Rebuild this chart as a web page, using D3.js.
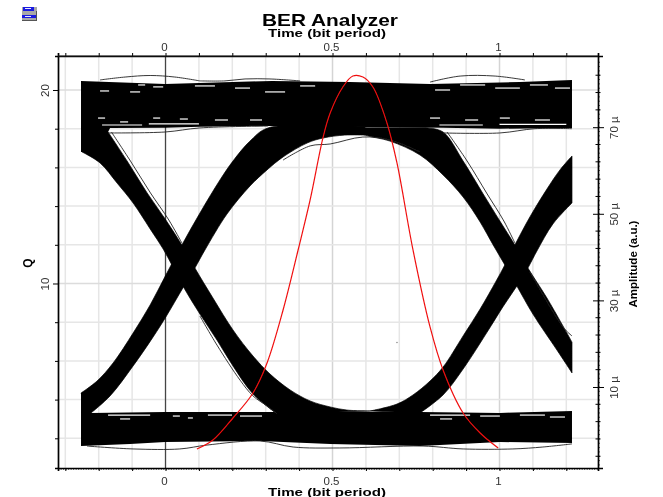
<!DOCTYPE html>
<html><head><meta charset="utf-8">
<style>
html,body{margin:0;padding:0;background:#fff;overflow:hidden}
svg{display:block}
text{font-family:"Liberation Sans",Arial,sans-serif}
</style>
<script src="https://cdn.jsdelivr.net/npm/d3@7"></script>
</head><body><svg id="c" width="663" height="497"></svg>
<script>
const titleText="BER Analyzer", xLabel="Time (bit period)", qLabel="Q", ampLabel="Amplitude (a.u.)";
const xMajor=[0,0.5,1];
const xGridVals=[-0.3,-0.2,-0.1,0,0.1,0.2,0.3,0.4,0.5,0.6,0.7,0.8,0.9,1,1.1,1.2];
const qGridVals=[2,4,6,8,10,12,14,16,18,20];
const qLabelled=[10,20];
const ampMajor=[10,30,50,70];
const ampMid=[-6,-2,2,6,14,18,22,26,34,38,42,46,54,58,62,66,74,78,82];

// eye diagram envelopes: [time, Q]
const highRail=[[-.253,20.47],[-.001,20.31],[.319,20.47],[.552,20.41],[.792,20.31],[1.061,20.41],[1.217,20.52],[1.217,18.04],[1.0,18.0],[.831,18.05],[.307,18.14],[.103,18.1],[-.001,18.05],[-.166,18.04],[-.172,17.83],[-.15,16.5],[-.25,16.8],[-.253,16.8]];
const lowRail=[[-.253,4.34],[-.2,4.3],[-.223,3.31],[-.001,3.36],[.319,3.36],[.493,3.36],[.762,3.36],[1.001,3.31],[1.217,3.41],[1.217,1.76],[1.001,1.81],[.762,1.6],[.493,1.71],[.283,1.86],[-.001,1.81],[-.106,1.71],[-.253,1.6]];
const fallOneUpper=[[-.172,17.83],[-.115,16.33],[-.055,14.68],[.001,13.28],[.049,11.99],[.088,10.8],[.142,9.25],[.202,7.6],[.262,6.25],[.313,5.32],[.373,4.5],[.433,3.93],[.493,3.62],[.543,3.46],[.612,3.41]];
const fallOneLower=[[-.25,16.8],[-.196,16.23],[-.145,15.19],[-.097,14.16],[-.046,12.82],[-.007,11.78],[.019,10.96],[.052,9.87],[.103,8.42],[.154,7.08],[.202,5.74],[.262,4.29],[.334,3.26]];
const riseOneUpper=[[-.253,4.34],[-.205,4.96],[-.157,5.89],[-.097,7.44],[-.046,8.89],[.001,10.44],[.049,11.99],[.103,13.64],[.163,15.35],[.202,16.33],[.253,17.36],[.307,18.04],[.597,18.1]];
const riseOneLower=[[-.223,3.31],[-.166,4.19],[-.097,5.74],[-.037,7.24],[.001,8.27],[.052,9.77],[.088,10.8],[.118,11.73],[.184,13.59],[.253,15.04],[.304,15.87],[.352,16.54],[.424,17.26],[.472,17.52],[.537,17.67],[.597,17.67]];
const fallTwoUpper=[[.78,18.05],[.831,17.83],[.891,16.33],[.951,14.63],[1.001,13.23],[1.046,11.99],[1.085,10.8],[1.142,9.25],[1.217,6.97]];
const fallTwoLower=[[.55,18.05],[.597,17.67],[.672,17.36],[.762,16.64],[.831,15.61],[.891,14.47],[.942,13.18],[.981,11.99],[1.016,10.96],[1.052,9.87],[1.1,8.42],[1.172,6.56],[1.217,5.38]];
const riseTwoUpper=[[.612,3.41],[.693,3.77],[.741,4.24],[.792,4.96],[.831,5.68],[.891,7.29],[.942,8.68],[.99,10.13],[1.016,10.96],[1.046,11.99],[1.091,13.44],[1.142,14.88],[1.181,15.87],[1.217,16.59]];
const riseTwoLower=[[.762,3.31],[.831,4.24],[.891,5.58],[.963,7.49],[1.01,8.79],[1.052,9.87],[1.085,10.8],[1.112,11.68],[1.16,13.08],[1.217,14.16]];

// single thin traces that stray from the bands
const stray=[
 [[-.196,20.52],[-.121,20.67],[-.046,20.75],[.028,20.67],[.103,20.47]],
 [[.103,20.47],[.178,20.47],[.238,20.57],[.313,20.57],[.403,20.47]],
 [[.792,20.41],[.882,20.72],[.987,20.72],[1.076,20.52]],
 [[-.172,17.78],[-.001,17.83],[.103,18.04],[.307,18.14]],
 [[.831,17.78],[1.001,17.78],[1.106,18.0],[1.217,18.0]],
 [[-.162,17.83],[-.105,16.33],[-.045,14.68],[.01,13.28],[.049,12.09]],
 [[.843,17.83],[.903,16.33],[.963,14.63],[1.013,13.23],[1.046,12.09]],
 [[.352,16.38],[.433,17.11],[.493,17.21],[.591,17.57],[.672,17.42],[.762,16.8]],
 [[-.235,1.6],[-.097,1.45],[.043,1.45],[.124,1.65],[.283,1.86],[.382,1.55],[.522,1.5],[.771,1.6],[.891,1.45],[1.04,1.45],[1.13,1.55],[1.217,1.71]],
 [[.103,8.32],[.154,6.82],[.223,5.01],[.262,4.19],[.304,3.67],[.334,3.26]],
 [[1.091,10.6],[1.19,7.75],[1.217,7.29]]
];
// white slivers inside the rails: [from, to, Q]
const railGaps=[
 [-.196,-.169,19.95],[-.106,-.076,19.9],[-.082,-.061,20.26],[-.037,-.007,20.16],[.088,.148,20.21],[.208,.253,20.1],[.298,.358,19.9],[.403,.448,20.21],[.807,.852,20.0],[.882,.957,20.26],[.987,1.061,20.1],[1.091,1.145,20.26],[1.166,1.211,20.1],
 [-.202,-.181,18.55],[-.136,-.112,18.35],[-.037,-.016,18.55],[.043,.067,18.5],[.148,.187,18.45],[.253,.289,18.45],[.792,.822,18.55],[.897,.936,18.45],[1.001,1.031,18.55],[1.106,1.151,18.45],
 [-.19,-.07,18.19],[-.05,.1,18.25],[.82,.95,18.19],[1.0,1.2,18.22],
 [-.172,-.046,3.2],[-.136,-.106,3.0],[.022,.043,3.15],[.067,.082,3.05],[.127,.199,3.2],[.223,.289,3.15],[.792,.912,3.2],[.822,.858,3.0],[.942,1.001,3.15],[1.061,1.136,3.2],[1.151,1.196,3.1]
];
const speck=[.693,6.95];

// red amplitude curve
const ampT=[.094,.142,.202,.262,.304,.352,.397,.433,.472,.493,.531,.561,.591,.621,.663,.693,.741,.792,.831,.891,.942,.996];
const ampV=[-4.32,-2.24,2.84,8.61,15.54,27.78,41.64,53.19,67.74,73.28,79.28,81.83,81.59,79.28,70.97,61.73,41.64,23.86,13.93,4.0,-.62,-4.09];

const L=58,R=598,T=56,B=468;
const x=d3.scaleLinear().domain([-.3219,1.2949]).range([L,R]);
const y=d3.scaleLinear().domain([.465,21.757]).range([B,T]);
const yR=d3.scaleLinear().domain([-8.71,86.44]).range([B,T]);
const svg=d3.select("#c");
const root=svg.append("g").attr("filter","url(#soft)");
const f=svg.append("defs").append("filter").attr("id","soft").attr("x",0).attr("y",0).attr("width","100%").attr("height","100%");
f.append("feGaussianBlur").attr("stdDeviation",0.35);

// grid
root.append("g").selectAll("line").data(xGridVals.filter(d=>d!==0)).join("line")
 .attr("x1",x).attr("x2",x).attr("y1",T).attr("y2",B).attr("stroke",d=>(d===.5||d===1)?"#d4d4d4":"#e6e6e6").attr("stroke-width",1.5);
root.append("g").selectAll("line").data(qGridVals).join("line")
 .attr("x1",L).attr("x2",R).attr("y1",y).attr("y2",y).attr("stroke",d=>qLabelled.includes(d)?"#dcdcdc":"#e6e6e6").attr("stroke-width",1.5);
root.append("line").attr("x1",x(0)).attr("x2",x(0)).attr("y1",T).attr("y2",B).attr("stroke","#444").attr("stroke-width",1.3);

// eye
const poly=d3.line().x(d=>x(d[0])).y(d=>y(d[1])).curve(d3.curveLinearClosed);
const edge=d3.line().x(d=>x(d[0])).y(d=>y(d[1])).curve(d3.curveCatmullRom.alpha(.5));
const band=(a,b)=>edge(a)+"L"+edge(b.slice().reverse()).slice(1)+"Z";
const eye=root.append("g");
[poly(highRail),poly(lowRail)].forEach(p=>eye.append("path").attr("d",p).attr("fill","#000"));
[band(fallOneUpper,fallOneLower),band(riseOneUpper,riseOneLower),band(fallTwoUpper,fallTwoLower),band(riseTwoUpper,riseTwoLower)]
 .forEach(p=>eye.append("path").attr("d",p).attr("fill","#000").attr("stroke","#000").attr("stroke-width",.7).attr("stroke-linejoin","round"));
eye.append("g").selectAll("line").data(railGaps).join("line")
 .attr("x1",d=>x(d[0])).attr("x2",d=>x(d[1])).attr("y1",d=>y(d[2])).attr("y2",d=>y(d[2])).attr("stroke","#fff").attr("stroke-width",1.2);
eye.append("g").selectAll("path").data(stray).join("path")
 .attr("d",edge).attr("fill","none").attr("stroke","#222").attr("stroke-width",.9);
eye.append("circle").attr("cx",x(speck[0])).attr("cy",y(speck[1])).attr("r",.8).attr("fill","#888");

// red curve
root.append("path").attr("d",d3.line().x((d,i)=>x(ampT[i])).y((d,i)=>yR(ampV[i])).curve(d3.curveCatmullRom)(ampT))
 .attr("fill","none").attr("stroke","#f01010").attr("stroke-width",1.2);

// axes
function styleAxis(g){g.select(".domain").attr("stroke","#000").attr("stroke-width",1.7);
 g.selectAll(".tick line").attr("stroke","#000");
 g.selectAll("text").attr("fill","#333").style("font-size","11.5px").style("font-family",'"Liberation Sans",Arial,sans-serif');}
const xFmt=d=>xMajor.includes(d)?String(d):"";
const axT=root.append("g").attr("transform",`translate(0,${T})`).call(d3.axisTop(x).tickValues(xGridVals).tickSizeOuter(0).tickSize(3).tickPadding(2).tickFormat(xFmt)).call(styleAxis);
const axB=root.append("g").attr("transform",`translate(0,${B})`).call(d3.axisBottom(x).tickValues(xGridVals).tickSizeOuter(0).tickSize(3).tickPadding(6).tickFormat(xFmt)).call(styleAxis);
axT.selectAll("text").attr("x",-1.5);
axB.selectAll("text").attr("x",-1.5);
const axL=root.append("g").attr("transform",`translate(${L},0)`).call(d3.axisLeft(y).tickValues(qGridVals).tickSizeOuter(0).tickSize(3).tickFormat(d=>qLabelled.includes(d)?String(d):"")).call(styleAxis);
axL.selectAll("text").attr("transform","rotate(-90,-6,0) translate(0,-3)").attr("x",-6).attr("dy",0).attr("text-anchor","middle");
axL.selectAll(".tick line").attr("x2",d=>qLabelled.includes(d)?-5:-3);
const axR=root.append("g").attr("transform",`translate(${R},0)`).call(d3.axisRight(yR).tickValues(ampMajor).tickSizeOuter(0).tickSize(5).tickFormat(d=>d+" µ")).call(styleAxis);
axR.selectAll(".tick line").attr("x1",-5).attr("x2",6);
axR.selectAll("text").attr("x",0).attr("dy",0).attr("text-anchor","middle").attr("transform","rotate(-90) translate(0,20)");
root.append("g").selectAll("line").data(ampMid).join("line")
 .attr("x1",R-2.5).attr("x2",R+2.5).attr("y1",yR).attr("y2",yR).attr("stroke","#000");
// fine minor ticks
const fineAmp=d3.range(-8,86,1);
root.append("g").selectAll("line").data(fineAmp).join("line")
 .attr("x1",R).attr("x2",R+1.8).attr("y1",yR).attr("y2",yR).attr("stroke","#000").attr("stroke-width",.8);
const fineT=d3.range(-.32,1.295,.0075);
root.append("g").selectAll("line").data(fineT).join("line")
 .attr("x1",x).attr("x2",x).attr("y1",B).attr("y2",B+1.8).attr("stroke","#000").attr("stroke-width",.8);
// top spine
root.append("line").attr("x1",L).attr("x2",R).attr("y1",T).attr("y2",T).attr("stroke","#222").attr("stroke-width",1.2);

// titles
const bold=(t,px)=>t.attr("font-weight","bold").attr("font-size",px).attr("fill","#000").attr("lengthAdjust","spacingAndGlyphs");
bold(root.append("text").attr("x",262).attr("y",26).attr("textLength",136),17).text(titleText);
bold(root.append("text").attr("x",268).attr("y",37).attr("textLength",118),10.5).text(xLabel);
bold(root.append("text").attr("x",268).attr("y",496).attr("textLength",118),10.5).text(xLabel);
bold(root.append("text").attr("transform","translate(32,263) rotate(-90)").attr("text-anchor","middle"),12).text(qLabel);
bold(root.append("text").attr("transform","translate(637,264) rotate(-90)").attr("text-anchor","middle"),11.5).text(ampLabel);

// window icon
const ic=svg.append("g");
ic.append("rect").attr("x",22).attr("y",7).attr("width",15).attr("height",14).attr("fill","#a8a8a8");
ic.append("rect").attr("x",23).attr("y",7).attr("width",11).attr("height",4).attr("fill","#1a1ae0");
ic.append("rect").attr("x",25).attr("y",8).attr("width",6).attr("height",1).attr("fill","#e8e8ff");
ic.append("rect").attr("x",22).attr("y",15).attr("width",15).attr("height",3).attr("fill","#1a1ae0");
ic.append("rect").attr("x",25).attr("y",16).attr("width",6).attr("height",1).attr("fill","#e8e8ff");
ic.append("rect").attr("x",22).attr("y",20).attr("width",15).attr("height",1).attr("fill","#555");
ic.append("rect").attr("x",36).attr("y",11).attr("width",1).attr("height",10).attr("fill","#555");
</script></body></html>
